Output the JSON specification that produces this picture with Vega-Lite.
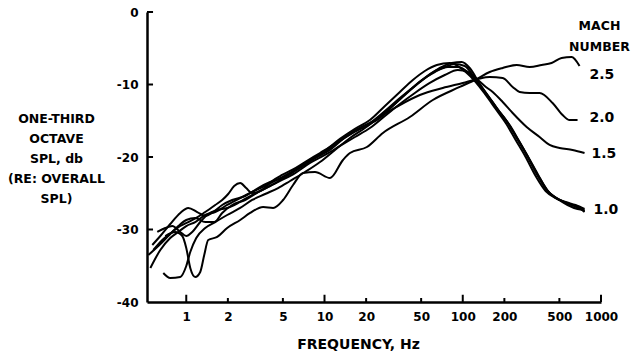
{
  "$schema": "https://vega.github.io/schema/vega-lite/v6.json",
  "autosize": "none",
  "padding": {"left": 147, "top": 12, "right": 32, "bottom": 60},
  "width": 454,
  "height": 290,
  "background": "white",
  "config": {"view": {"stroke": null}, "font": "DejaVu Sans"},
  "datasets": {
    "curves": [
      {"curve":"1.0a","freq":0.55,"db":-35.31},{"curve":"1.0a","freq":0.649,"db":-32.83},{"curve":"1.0a","freq":0.766,"db":-31.17},{"curve":"1.0a","freq":0.876,"db":-30.34},{"curve":"1.0a","freq":1.0,"db":-29.52},{"curve":"1.0a","freq":1.161,"db":-28.97},{"curve":"1.0a","freq":1.371,"db":-28.0},{"curve":"1.0a","freq":1.62,"db":-27.59},{"curve":"1.0a","freq":1.977,"db":-26.62},{"curve":"1.0a","freq":2.455,"db":-25.66},{"curve":"1.0a","freq":2.996,"db":-24.83},{"curve":"1.0a","freq":3.719,"db":-24.0},{"curve":"1.0a","freq":4.934,"db":-22.76},{"curve":"1.0a","freq":6.655,"db":-21.38},{"curve":"1.0a","freq":8.54,"db":-20.14},{"curve":"1.0a","freq":10.96,"db":-19.03},{"curve":"1.0a","freq":14.06,"db":-17.3},{"curve":"1.0a","freq":18.05,"db":-16.0},{"curve":"1.0a","freq":23.15,"db":-14.9},{"curve":"1.0a","freq":29.72,"db":-13.24},{"curve":"1.0a","freq":38.13,"db":-11.45},{"curve":"1.0a","freq":48.92,"db":-9.66},{"curve":"1.0a","freq":59.73,"db":-8.41},{"curve":"1.0a","freq":74.13,"db":-7.59},{"curve":"1.0a","freq":87.52,"db":-7.17},{"curve":"1.0a","freq":103.4,"db":-7.45},{"curve":"1.0a","freq":122.1,"db":-9.1},{"curve":"1.0a","freq":149.1,"db":-11.31},{"curve":"1.0a","freq":176.0,"db":-13.24},{"curve":"1.0a","freq":207.9,"db":-15.03},{"curve":"1.0a","freq":245.5,"db":-17.38},{"curve":"1.0a","freq":289.9,"db":-19.72},{"curve":"1.0a","freq":342.3,"db":-22.34},{"curve":"1.0a","freq":404.1,"db":-24.55},{"curve":"1.0a","freq":477.2,"db":-25.66},{"curve":"1.0a","freq":563.6,"db":-26.34},{"curve":"1.0a","freq":665.6,"db":-26.9},{"curve":"1.0a","freq":760.2,"db":-27.45},

      {"curve":"1.0b","freq":0.568,"db":-32.14},{"curve":"1.0b","freq":0.649,"db":-30.9},{"curve":"1.0b","freq":0.766,"db":-29.24},{"curve":"1.0b","freq":0.905,"db":-27.72},{"curve":"1.0b","freq":1.034,"db":-27.03},{"curve":"1.0b","freq":1.2,"db":-27.59},{"curve":"1.0b","freq":1.371,"db":-28.14},{"curve":"1.0b","freq":1.566,"db":-27.59},{"curve":"1.0b","freq":1.819,"db":-26.62},{"curve":"1.0b","freq":2.148,"db":-25.93},{"curve":"1.0b","freq":2.667,"db":-25.38},{"curve":"1.0b","freq":3.311,"db":-24.28},{"curve":"1.0b","freq":4.043,"db":-23.45},{"curve":"1.0b","freq":4.934,"db":-22.9},{"curve":"1.0b","freq":6.124,"db":-21.79},{"curve":"1.0b","freq":7.858,"db":-20.41},{"curve":"1.0b","freq":10.08,"db":-19.31},{"curve":"1.0b","freq":12.94,"db":-17.7},{"curve":"1.0b","freq":16.61,"db":-16.3},{"curve":"1.0b","freq":21.31,"db":-15.31},{"curve":"1.0b","freq":27.35,"db":-13.66},{"curve":"1.0b","freq":35.09,"db":-11.86},{"curve":"1.0b","freq":45.02,"db":-10.21},{"curve":"1.0b","freq":55.89,"db":-8.83},{"curve":"1.0b","freq":68.23,"db":-7.72},{"curve":"1.0b","freq":83.27,"db":-7.03},{"curve":"1.0b","freq":98.35,"db":-6.9},{"curve":"1.0b","freq":112.3,"db":-7.72},{"curve":"1.0b","freq":132.7,"db":-9.93},{"curve":"1.0b","freq":156.6,"db":-11.86},{"curve":"1.0b","freq":185.0,"db":-13.79},{"curve":"1.0b","freq":218.5,"db":-15.59},{"curve":"1.0b","freq":257.9,"db":-17.93},{"curve":"1.0b","freq":304.7,"db":-20.41},{"curve":"1.0b","freq":359.7,"db":-22.9},{"curve":"1.0b","freq":424.8,"db":-24.97},{"curve":"1.0b","freq":501.6,"db":-25.93},{"curve":"1.0b","freq":592.5,"db":-26.48},{"curve":"1.0b","freq":699.6,"db":-27.03},{"curve":"1.0b","freq":760.2,"db":-27.59},

      {"curve":"1.0c","freq":0.617,"db":-30.34},{"curve":"1.0c","freq":0.705,"db":-29.79},{"curve":"1.0c","freq":0.792,"db":-29.52},{"curve":"1.0c","freq":0.905,"db":-30.34},{"curve":"1.0c","freq":1.0,"db":-30.9},{"curve":"1.0c","freq":1.105,"db":-30.34},{"curve":"1.0c","freq":1.262,"db":-28.97},{"curve":"1.0c","freq":1.441,"db":-27.86},{"curve":"1.0c","freq":1.674,"db":-27.31},{"curve":"1.0c","freq":1.977,"db":-27.03},{"curve":"1.0c","freq":2.374,"db":-26.34},{"curve":"1.0c","freq":2.898,"db":-25.38},{"curve":"1.0c","freq":3.538,"db":-24.55},{"curve":"1.0c","freq":4.391,"db":-23.59},{"curve":"1.0c","freq":5.361,"db":-22.62},{"curve":"1.0c","freq":6.655,"db":-21.52},{"curve":"1.0c","freq":8.124,"db":-20.41},{"curve":"1.0c","freq":10.25,"db":-19.03},{"curve":"1.0c","freq":12.94,"db":-17.5},{"curve":"1.0c","freq":16.61,"db":-16.1},{"curve":"1.0c","freq":21.31,"db":-14.9},{"curve":"1.0c","freq":27.35,"db":-12.97},{"curve":"1.0c","freq":35.09,"db":-11.03},{"curve":"1.0c","freq":43.55,"db":-9.38},{"curve":"1.0c","freq":53.17,"db":-8.14},{"curve":"1.0c","freq":64.91,"db":-7.31},{"curve":"1.0c","freq":80.55,"db":-7.03},{"curve":"1.0c","freq":92.01,"db":-7.45},{"curve":"1.0c","freq":105.1,"db":-8.28},{"curve":"1.0c","freq":124.1,"db":-9.66},{"curve":"1.0c","freq":146.6,"db":-11.45},{"curve":"1.0c","freq":173.1,"db":-13.38},{"curve":"1.0c","freq":204.5,"db":-15.31},{"curve":"1.0c","freq":241.4,"db":-17.66},{"curve":"1.0c","freq":285.0,"db":-20.0},{"curve":"1.0c","freq":336.7,"db":-22.62},{"curve":"1.0c","freq":397.5,"db":-24.69},{"curve":"1.0c","freq":469.3,"db":-25.66},{"curve":"1.0c","freq":554.3,"db":-26.21},{"curve":"1.0c","freq":654.6,"db":-26.62},{"curve":"1.0c","freq":760.2,"db":-27.17},

      {"curve":"1.0d","freq":0.578,"db":-32.83},{"curve":"1.0d","freq":0.671,"db":-31.45},{"curve":"1.0d","freq":0.792,"db":-30.34},{"curve":"1.0d","freq":0.905,"db":-29.52},{"curve":"1.0d","freq":1.034,"db":-28.97},{"curve":"1.0d","freq":1.181,"db":-28.41},{"curve":"1.0d","freq":1.371,"db":-27.59},{"curve":"1.0d","freq":1.62,"db":-26.62},{"curve":"1.0d","freq":1.819,"db":-25.93},{"curve":"1.0d","freq":2.01,"db":-25.1},{"curve":"1.0d","freq":2.222,"db":-24.0},{"curve":"1.0d","freq":2.455,"db":-23.59},{"curve":"1.0d","freq":2.712,"db":-24.28},{"curve":"1.0d","freq":2.996,"db":-24.97},{"curve":"1.0d","freq":3.538,"db":-24.55},{"curve":"1.0d","freq":4.179,"db":-23.31},{"curve":"1.0d","freq":4.934,"db":-22.48},{"curve":"1.0d","freq":5.826,"db":-21.79},{"curve":"1.0d","freq":7.231,"db":-20.69},{"curve":"1.0d","freq":9.28,"db":-19.45},{"curve":"1.0d","freq":11.91,"db":-18.2},{"curve":"1.0d","freq":15.28,"db":-16.9},{"curve":"1.0d","freq":19.61,"db":-15.8},{"curve":"1.0d","freq":25.16,"db":-14.62},{"curve":"1.0d","freq":32.28,"db":-12.69},{"curve":"1.0d","freq":41.43,"db":-10.76},{"curve":"1.0d","freq":50.58,"db":-9.38},{"curve":"1.0d","freq":62.78,"db":-8.28},{"curve":"1.0d","freq":77.93,"db":-7.59},{"curve":"1.0d","freq":92.01,"db":-7.59},{"curve":"1.0d","freq":108.7,"db":-8.28},{"curve":"1.0d","freq":128.3,"db":-9.79},{"curve":"1.0d","freq":151.6,"db":-11.59},{"curve":"1.0d","freq":178.9,"db":-13.52},{"curve":"1.0d","freq":211.4,"db":-15.31},{"curve":"1.0d","freq":249.6,"db":-17.52},{"curve":"1.0d","freq":294.7,"db":-19.86},{"curve":"1.0d","freq":348.0,"db":-22.34},{"curve":"1.0d","freq":410.9,"db":-24.69},{"curve":"1.0d","freq":485.2,"db":-25.79},{"curve":"1.0d","freq":573.1,"db":-26.62},{"curve":"1.0d","freq":676.7,"db":-27.17},{"curve":"1.0d","freq":760.2,"db":-27.31},

      {"curve":"1.5","freq":0.532,"db":-33.52},{"curve":"1.5","freq":0.628,"db":-32.28},{"curve":"1.5","freq":0.741,"db":-30.9},{"curve":"1.5","freq":0.876,"db":-29.52},{"curve":"1.5","freq":1.0,"db":-28.69},{"curve":"1.5","freq":1.161,"db":-28.41},{"curve":"1.5","freq":1.371,"db":-28.97},{"curve":"1.5","freq":1.593,"db":-28.97},{"curve":"1.5","freq":1.819,"db":-27.72},{"curve":"1.5","freq":2.148,"db":-26.62},{"curve":"1.5","freq":2.667,"db":-25.93},{"curve":"1.5","freq":3.311,"db":-24.83},{"curve":"1.5","freq":4.043,"db":-24.0},{"curve":"1.5","freq":4.934,"db":-23.17},{"curve":"1.5","freq":6.124,"db":-22.21},{"curve":"1.5","freq":7.858,"db":-20.83},{"curve":"1.5","freq":10.08,"db":-19.72},{"curve":"1.5","freq":12.94,"db":-18.48},{"curve":"1.5","freq":16.61,"db":-17.24},{"curve":"1.5","freq":21.31,"db":-16.0},{"curve":"1.5","freq":27.35,"db":-14.34},{"curve":"1.5","freq":35.09,"db":-12.69},{"curve":"1.5","freq":45.02,"db":-11.17},{"curve":"1.5","freq":57.77,"db":-9.79},{"curve":"1.5","freq":74.13,"db":-8.69},{"curve":"1.5","freq":92.01,"db":-8.0},{"curve":"1.5","freq":108.7,"db":-8.28},{"curve":"1.5","freq":126.2,"db":-9.24},{"curve":"1.5","freq":144.2,"db":-10.21},{"curve":"1.5","freq":164.7,"db":-11.03},{"curve":"1.5","freq":194.5,"db":-12.41},{"curve":"1.5","freq":229.6,"db":-13.93},{"curve":"1.5","freq":289.9,"db":-15.86},{"curve":"1.5","freq":359.7,"db":-17.24},{"curve":"1.5","freq":424.8,"db":-18.34},{"curve":"1.5","freq":501.6,"db":-18.76},{"curve":"1.5","freq":622.8,"db":-19.03},{"curve":"1.5","freq":760.2,"db":-19.45},

      {"curve":"2.0","freq":0.682,"db":-36.0},{"curve":"2.0","freq":0.766,"db":-36.69},{"curve":"2.0","freq":0.905,"db":-36.55},{"curve":"2.0","freq":1.0,"db":-35.03},{"curve":"2.0","freq":1.069,"db":-33.1},{"curve":"2.0","freq":1.181,"db":-31.17},{"curve":"2.0","freq":1.371,"db":-29.79},{"curve":"2.0","freq":1.62,"db":-28.97},{"curve":"2.0","freq":1.977,"db":-28.0},{"curve":"2.0","freq":2.455,"db":-27.03},{"curve":"2.0","freq":2.996,"db":-25.93},{"curve":"2.0","freq":3.719,"db":-25.1},{"curve":"2.0","freq":4.616,"db":-24.28},{"curve":"2.0","freq":5.636,"db":-23.31},{"curve":"2.0","freq":7.231,"db":-22.07},{"curve":"2.0","freq":9.28,"db":-20.69},{"curve":"2.0","freq":11.91,"db":-19.03},{"curve":"2.0","freq":15.28,"db":-17.38},{"curve":"2.0","freq":19.61,"db":-16.0},{"curve":"2.0","freq":25.16,"db":-14.48},{"curve":"2.0","freq":35.09,"db":-12.83},{"curve":"2.0","freq":48.92,"db":-11.45},{"curve":"2.0","freq":71.71,"db":-10.48},{"curve":"2.0","freq":100.0,"db":-9.79},{"curve":"2.0","freq":128.3,"db":-9.24},{"curve":"2.0","freq":156.6,"db":-8.97},{"curve":"2.0","freq":194.5,"db":-9.1},{"curve":"2.0","freq":229.6,"db":-10.34},{"curve":"2.0","freq":257.9,"db":-11.03},{"curve":"2.0","freq":304.7,"db":-11.17},{"curve":"2.0","freq":359.7,"db":-11.17},{"curve":"2.0","freq":446.5,"db":-12.55},{"curve":"2.0","freq":527.3,"db":-14.21},{"curve":"2.0","freq":592.5,"db":-14.9},{"curve":"2.0","freq":676.7,"db":-14.9},

      {"curve":"2.5","freq":0.705,"db":-30.9},{"curve":"2.5","freq":0.833,"db":-30.34},{"curve":"2.5","freq":0.936,"db":-30.9},{"curve":"2.5","freq":1.0,"db":-32.55},{"curve":"2.5","freq":1.069,"db":-35.31},{"curve":"2.5","freq":1.161,"db":-36.55},{"curve":"2.5","freq":1.262,"db":-35.86},{"curve":"2.5","freq":1.349,"db":-33.52},{"curve":"2.5","freq":1.441,"db":-31.45},{"curve":"2.5","freq":1.674,"db":-31.03},{"curve":"2.5","freq":1.977,"db":-29.79},{"curve":"2.5","freq":2.455,"db":-28.69},{"curve":"2.5","freq":2.898,"db":-27.72},{"curve":"2.5","freq":3.597,"db":-26.9},{"curve":"2.5","freq":4.25,"db":-27.03},{"curve":"2.5","freq":5.017,"db":-25.93},{"curve":"2.5","freq":5.924,"db":-23.86},{"curve":"2.5","freq":6.995,"db":-22.21},{"curve":"2.5","freq":8.54,"db":-22.07},{"curve":"2.5","freq":10.96,"db":-22.9},{"curve":"2.5","freq":13.6,"db":-20.41},{"curve":"2.5","freq":15.28,"db":-19.45},{"curve":"2.5","freq":20.27,"db":-18.62},{"curve":"2.5","freq":26.45,"db":-16.69},{"curve":"2.5","freq":41.43,"db":-14.48},{"curve":"2.5","freq":60.73,"db":-12.14},{"curve":"2.5","freq":95.13,"db":-10.34},{"curve":"2.5","freq":126.2,"db":-9.24},{"curve":"2.5","freq":156.6,"db":-8.28},{"curve":"2.5","freq":194.5,"db":-7.72},{"curve":"2.5","freq":245.5,"db":-7.31},{"curve":"2.5","freq":304.7,"db":-7.59},{"curve":"2.5","freq":371.9,"db":-7.31},{"curve":"2.5","freq":439.1,"db":-7.03},{"curve":"2.5","freq":518.6,"db":-6.34},{"curve":"2.5","freq":612.5,"db":-6.21},{"curve":"2.5","freq":699.6,"db":-7.45}
    ],
    "labels": [
      {"freq": 826, "db": -8.69, "label": "2.5"},
      {"freq": 826, "db": -14.62, "label": "2.0"},
      {"freq": 854, "db": -19.59, "label": "1.5"},
      {"freq": 883, "db": -27.3, "label": "1.0"}
    ],
    "header": [
      {"freq": 975, "db": -1.93, "label": "MACH"},
      {"freq": 975, "db": -4.83, "label": "NUMBER"}
    ],
    "majorTicks": [{"freq": 1}, {"freq": 10}, {"freq": 100}, {"freq": 1000}],
    "minorTicks": [{"freq": 2}, {"freq": 5}, {"freq": 20}, {"freq": 50}, {"freq": 200}, {"freq": 500}],
    "yTicks": [{"db": -30}, {"db": -20}, {"db": -10}, {"db": 0}]
  },
  "layer": [
    {
      "data": {"name": "curves"},
      "mark": {"type": "line", "color": "black", "strokeWidth": 2, "interpolate": "monotone", "clip": false},
      "encoding": {
        "x": {
          "field": "freq", "type": "quantitative",
          "scale": {"type": "log", "domain": [0.52, 1000], "nice": false},
          "axis": {
            "values": [1, 2, 5, 10, 20, 50, 100, 200, 500, 1000],
            "format": "d",
            "grid": false,
            "ticks": false,
            "labelFlush": false,
            "labelOverlap": false,
            "domainColor": "black", "domainWidth": 2.5,
            "labelPadding": 9,
            "labelFont": "DejaVu Sans", "labelFontWeight": "bold", "labelFontSize": 12, "labelColor": "black",
            "title": "FREQUENCY, Hz",
            "titleFont": "DejaVu Sans", "titleFontWeight": "bold", "titleFontSize": 14, "titleColor": "black",
            "titleAnchor": "middle", "titleAlign": "center", "titleBaseline": "alphabetic",
            "titleX": 211, "titleY": 46
          }
        },
        "y": {
          "field": "db", "type": "quantitative",
          "scale": {"domain": [-40, 0], "nice": false},
          "axis": {
            "values": [-40, -30, -20, -10, 0],
            "labelExpr": "datum.value == 0 ? '0' : '-' + abs(datum.value)",
            "grid": false,
            "ticks": false,
            "labelFlush": false,
            "labelOverlap": false,
            "domainColor": "black", "domainWidth": 2.5,
            "labelPadding": 9,
            "labelFont": "DejaVu Sans", "labelFontWeight": "bold", "labelFontSize": 12, "labelColor": "black",
            "title": ["ONE-THIRD", "OCTAVE", "SPL, db", "(RE: OVERALL", "SPL)"],
            "titleFont": "DejaVu Sans", "titleFontWeight": "bold", "titleFontSize": 12.5, "titleColor": "black",
            "titleAngle": 0, "titleAlign": "center", "titleBaseline": "alphabetic",
            "titleLineHeight": 20, "titleX": -91, "titleY": 110
          }
        },
        "detail": {"field": "curve", "type": "nominal"}
      }
    },
    {
      "data": {"name": "majorTicks"},
      "mark": {"type": "rule", "color": "black", "strokeWidth": 2},
      "encoding": {
        "x": {"field": "freq", "type": "quantitative"},
        "y": {"datum": -40},
        "y2": {"datum": -39.0}
      }
    },
    {
      "data": {"name": "minorTicks"},
      "mark": {"type": "rule", "color": "black", "strokeWidth": 2},
      "encoding": {
        "x": {"field": "freq", "type": "quantitative"},
        "y": {"datum": -40},
        "y2": {"datum": -39.45}
      }
    },
    {
      "data": {"name": "yTicks"},
      "mark": {"type": "rule", "color": "black", "strokeWidth": 2},
      "encoding": {
        "y": {"field": "db", "type": "quantitative"},
        "x": {"datum": 0.52},
        "x2": {"datum": 0.575}
      }
    },
    {
      "data": {"name": "labels"},
      "mark": {"type": "text", "align": "left", "baseline": "middle", "font": "DejaVu Sans", "fontWeight": "bold", "fontSize": 14, "color": "black", "clip": false},
      "encoding": {
        "x": {"field": "freq", "type": "quantitative"},
        "y": {"field": "db", "type": "quantitative"},
        "text": {"field": "label"}
      }
    },
    {
      "data": {"name": "header"},
      "mark": {"type": "text", "align": "center", "baseline": "middle", "font": "DejaVu Sans", "fontWeight": "bold", "fontSize": 12.5, "color": "black", "clip": false},
      "encoding": {
        "x": {"field": "freq", "type": "quantitative"},
        "y": {"field": "db", "type": "quantitative"},
        "text": {"field": "label"}
      }
    }
  ]
}
